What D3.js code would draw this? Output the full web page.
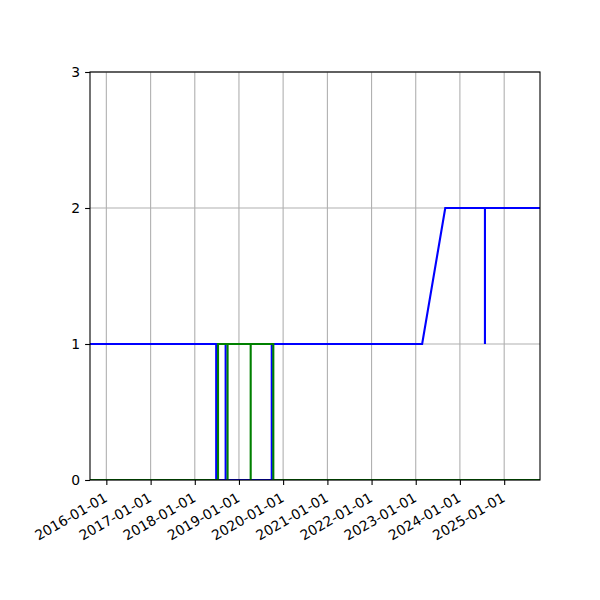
<!DOCTYPE html>
<html>
<head>
<meta charset="utf-8">
<script src="https://cdn.jsdelivr.net/npm/d3@7"></script>
<style>
  body { margin: 0; background: #fff; }
  svg { display: block; }
</style>
</head>
<body>
<svg id="container" width="600" height="600"></svg>
<script>
  // blue series: steps with same-date pairs for the vertical jumps
  const blueDates = [
    '2015-08-19', '2018-06-27', '2018-06-27', '2018-09-13', '2018-09-13', '2018-09-13',
    '2019-09-29', '2019-09-29', '2023-02-23', '2023-09-02', '2024-07-26', '2024-07-26',
    '2024-07-26', '2025-10-24'
  ];
  const blueValues = [1, 1, 0, 0, 1, 0, 0, 1, 1, 2, 2, 1, 2, 2];

  const greenDates = [
    '2015-08-19', '2018-07-12', '2018-07-12', '2018-09-29', '2018-09-29', '2018-09-29',
    '2019-04-08', '2019-04-08', '2019-04-08', '2019-10-12', '2019-10-12', '2025-10-24'
  ];
  const greenValues = [0, 0, 1, 1, 0, 1, 1, 0, 1, 1, 0, 0];

  const yTicks = [0, 1, 2, 3];
  const xTickLabels = [
    '2016-01-01', '2017-01-01', '2018-01-01', '2019-01-01', '2020-01-01',
    '2021-01-01', '2022-01-01', '2023-01-01', '2024-01-01', '2025-01-01'
  ];

  const parse = d3.utcParse('%Y-%m-%d');
  const toPoints = (dates, values) => dates.map((d, i) => ({ date: parse(d), value: values[i] }));
  const blue = toPoints(blueDates, blueValues);
  const green = toPoints(greenDates, greenValues);

  const svg = d3.select('#container');
  const m = { left: 90, right: 540, top: 72, bottom: 480 };
  const font = '"DejaVu Sans", sans-serif';

  const x = d3.scaleUtc()
    .domain(d3.extent(blue.concat(green), d => d.date))
    .range([m.left, m.right]);
  const y = d3.scaleLinear().domain([0, 3]).range([m.bottom, m.top]);

  svg.append('defs').append('clipPath').attr('id', 'clip')
    .append('rect')
    .attr('x', m.left).attr('y', m.top)
    .attr('width', m.right - m.left).attr('height', m.bottom - m.top);

  // grid
  const grid = svg.append('g').attr('stroke', '#b0b0b0').attr('stroke-width', 1.1);
  grid.selectAll('.vx')
    .data(xTickLabels)
    .enter().append('line')
    .attr('x1', d => x(parse(d))).attr('x2', d => x(parse(d)))
    .attr('y1', m.top).attr('y2', m.bottom);
  grid.selectAll('.hy')
    .data(yTicks)
    .enter().append('line')
    .attr('x1', m.left).attr('x2', m.right)
    .attr('y1', d => y(d)).attr('y2', d => y(d));

  const line = d3.line().x(d => x(d.date)).y(d => y(d.value));
  const plot = svg.append('g').attr('clip-path', 'url(#clip)');
  plot.append('path').datum(blue)
    .attr('fill', 'none').attr('stroke', '#0000ff').attr('stroke-width', 2.1)
    .attr('d', line);
  plot.append('path').datum(green)
    .attr('fill', 'none').attr('stroke', '#008000').attr('stroke-width', 2.1)
    .attr('d', line);

  // axes
  const xAxis = d3.axisBottom(x)
    .tickValues(xTickLabels.map(parse))
    .tickFormat(d3.utcFormat('%Y-%m-%d'))
    .tickSize(4.9).tickPadding(4.9);
  const gx = svg.append('g').attr('transform', `translate(0,${m.bottom})`).call(xAxis)
    .attr('font-family', font).attr('font-size', 13.9);
  gx.select('.domain').remove();
  gx.selectAll('line').attr('stroke', '#000').attr('stroke-width', 1.1);
  gx.selectAll('text')
    .attr('fill', '#000')
    .attr('text-anchor', 'end')
    .attr('dy', null)
    .attr('y', 0)
    .attr('x', 0)
    .attr('transform', 'translate(1.5,20.5) rotate(-30)');

  const yAxis = d3.axisLeft(y).tickValues(yTicks).tickFormat(d3.format('d'))
    .tickSize(4.9).tickPadding(4.9);
  const gy = svg.append('g').attr('transform', `translate(${m.left},0)`).call(yAxis)
    .attr('font-family', font).attr('font-size', 13.9);
  gy.select('.domain').remove();
  gy.selectAll('line').attr('stroke', '#000').attr('stroke-width', 1.1);
  gy.selectAll('text').attr('fill', '#000');

  svg.append('rect')
    .attr('x', m.left).attr('y', m.top)
    .attr('width', m.right - m.left).attr('height', m.bottom - m.top)
    .attr('fill', 'none').attr('stroke', '#000').attr('stroke-width', 1.1);
</script>
</body>
</html>
